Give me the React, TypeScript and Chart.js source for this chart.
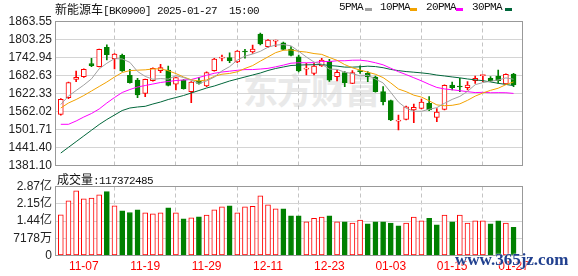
import React, { useEffect, useRef } from 'react';
import { Chart, registerables } from 'chart.js';

Chart.register(...registerables);
Chart.defaults.font.family = '"Liberation Sans", "Noto Sans CJK SC", sans-serif';

// ---------- data ----------
const dates = [
  '11-04','11-05','11-06','11-07','11-08','11-11','11-12','11-13','11-14','11-15',
  '11-18','11-19','11-20','11-21','11-22','11-25','11-26','11-27','11-28','11-29',
  '12-02','12-03','12-04','12-05','12-06','12-09','12-10','12-11','12-12','12-13',
  '12-16','12-17','12-18','12-19','12-20','12-23','12-24','12-25','12-26','12-27',
  '12-30','12-31','01-02','01-03','01-06','01-07','01-08','01-09','01-10','01-13',
  '01-14','01-15','01-16','01-17','01-20','01-21','01-22','01-23','01-24','01-27',
];
const tickIndex = [3, 11, 19, 27, 35, 43, 51, 59];

const open = [
  1552.6, 1608.2, 1669.9, 1678.6, 1722.2, 1712.1, 1777.1, 1738.9, 1750.3, 1683.3,
  1667.5, 1623.0, 1665.2, 1698.7, 1701.0, 1653.2, 1667.5, 1628.4, 1663.2, 1648.0,
  1698.7, 1741.0, 1742.3, 1727.9, 1764.7, 1761.4, 1821.7, 1779.1, 1798.0, 1792.5,
  1771.4, 1745.6, 1704.0, 1690.0, 1714.5, 1730.0, 1678.6, 1692.0, 1656.5, 1698.7,
  1690.0, 1676.6, 1628.4, 1598.2, 1530.0, 1535.8, 1567.0, 1572.7, 1589.5, 1542.6,
  1569.4, 1650.8, 1646.4, 1641.8, 1665.2, 1682.0, 1673.2, 1681.0, 1654.2, 1687.6,
];
const high = [
  1605.0, 1661.0, 1697.7, 1705.0, 1740.3, 1771.0, 1785.8, 1756.0, 1754.6, 1703.4,
  1673.2, 1671.0, 1708.0, 1720.2, 1714.5, 1677.0, 1669.0, 1662.0, 1676.6, 1695.0,
  1740.0, 1751.3, 1759.0, 1766.0, 1770.4, 1784.8, 1825.0, 1803.0, 1801.0, 1794.9,
  1779.8, 1751.0, 1723.5, 1723.5, 1740.3, 1737.0, 1701.0, 1695.4, 1698.7, 1715.4,
  1695.4, 1681.0, 1645.1, 1600.0, 1550.3, 1580.0, 1587.0, 1603.9, 1611.6, 1571.4,
  1651.0, 1660.8, 1673.2, 1661.9, 1681.0, 1685.0, 1678.6, 1701.0, 1688.0, 1690.0,
];
const low = [
  1550.0, 1605.0, 1661.9, 1676.0, 1712.1, 1711.0, 1734.6, 1704.4, 1696.0, 1657.0,
  1608.2, 1611.6, 1664.0, 1692.0, 1648.0, 1634.0, 1637.0, 1591.5, 1653.2, 1645.0,
  1697.0, 1731.2, 1725.5, 1726.0, 1740.3, 1757.0, 1784.8, 1777.0, 1779.0, 1768.0,
  1748.0, 1694.3, 1684.3, 1684.3, 1713.0, 1663.0, 1664.2, 1645.1, 1655.0, 1690.0,
  1661.9, 1627.0, 1583.8, 1531.0, 1500.0, 1534.0, 1524.5, 1571.0, 1564.7, 1527.8,
  1567.0, 1634.0, 1628.4, 1634.0, 1656.5, 1661.9, 1661.9, 1656.5, 1653.0, 1645.1,
];
const close = [
  1602.9, 1658.5, 1676.6, 1703.4, 1715.5, 1770.4, 1752.3, 1754.6, 1697.7, 1658.5,
  1617.3, 1669.9, 1706.8, 1708.8, 1649.8, 1675.3, 1638.4, 1660.8, 1656.5, 1692.0,
  1737.9, 1743.0, 1732.2, 1764.7, 1761.4, 1771.4, 1788.2, 1801.6, 1800.0, 1770.4,
  1749.6, 1697.7, 1706.0, 1714.5, 1734.6, 1667.0, 1693.4, 1658.5, 1692.0, 1695.4,
  1678.6, 1628.4, 1594.8, 1533.5, 1532.0, 1578.0, 1576.0, 1593.8, 1567.0, 1560.3,
  1649.8, 1641.8, 1644.1, 1650.8, 1673.2, 1684.0, 1664.2, 1665.2, 1686.6, 1650.8,
];

const ma5 = [
  1585.4, 1613.9, 1632.4, 1650.8, 1671.4, 1704.9, 1723.6, 1739.2, 1738.1, 1726.7,
  1696.1, 1679.6, 1670.0, 1672.3, 1670.5, 1682.1, 1675.8, 1666.6, 1656.2, 1664.6,
  1677.1, 1698.0, 1712.3, 1734.0, 1747.8, 1754.5, 1763.6, 1777.5, 1784.5, 1786.3,
  1782.0, 1763.9, 1744.7, 1727.6, 1720.5, 1704.0, 1703.1, 1693.6, 1689.1, 1681.3,
  1683.6, 1670.6, 1657.8, 1626.1, 1593.5, 1573.3, 1562.9, 1562.7, 1569.4, 1575.0,
  1589.4, 1602.5, 1612.6, 1629.4, 1651.9, 1658.8, 1663.3, 1667.5, 1674.6, 1670.2,
];
const ma10 = [
  1573.7, 1590.5, 1602.2, 1615.6, 1630.7, 1645.8, 1660.8, 1677.6, 1692.7, 1699.0,
  1700.5, 1701.6, 1704.6, 1705.2, 1698.6, 1689.1, 1677.7, 1668.3, 1664.2, 1667.6,
  1679.6, 1686.9, 1689.5, 1695.1, 1706.2, 1715.8, 1730.8, 1744.9, 1759.2, 1767.1,
  1768.3, 1763.7, 1761.1, 1756.1, 1753.4, 1743.0, 1733.5, 1719.2, 1708.4, 1700.9,
  1693.8, 1686.8, 1675.7, 1657.6, 1637.4, 1628.5, 1616.7, 1610.3, 1597.8, 1584.2,
  1581.4, 1582.7, 1587.6, 1599.4, 1613.5, 1624.1, 1632.9, 1640.0, 1652.0, 1661.1,
];
const ma20 = [
  1519.1, 1519.1, 1530.2, 1543.6, 1555.3, 1570.4, 1590.5, 1608.9, 1625.7, 1635.7,
  1644.1, 1649.1, 1654.1, 1659.2, 1662.5, 1665.9, 1667.5, 1669.2, 1675.9, 1683.3,
  1690.1, 1694.3, 1697.1, 1700.1, 1702.4, 1702.5, 1704.3, 1706.6, 1711.7, 1717.3,
  1723.9, 1725.3, 1725.3, 1725.6, 1729.8, 1729.4, 1732.1, 1732.0, 1733.8, 1734.0,
  1731.0, 1725.3, 1718.4, 1706.9, 1695.4, 1685.7, 1675.1, 1664.7, 1653.1, 1642.6,
  1637.6, 1634.8, 1631.7, 1628.5, 1625.4, 1626.3, 1624.8, 1625.1, 1624.9, 1622.6,
];
const ma30 = [
  1422.9, 1442.0, 1461.1, 1480.2, 1499.3, 1518.4, 1535.2, 1550.2, 1565.3, 1573.7,
  1577.1, 1579.4, 1587.1, 1593.8, 1602.2, 1608.9, 1615.6, 1624.0, 1632.3, 1640.7,
  1647.4, 1655.8, 1664.2, 1670.9, 1677.6, 1684.3, 1691.0, 1699.4, 1706.1, 1711.2,
  1716.1, 1717.4, 1718.4, 1718.8, 1719.4, 1716.0, 1714.0, 1710.8, 1710.6, 1711.8,
  1713.9, 1712.5, 1708.8, 1702.9, 1699.0, 1695.8, 1693.7, 1691.4, 1688.5, 1684.1,
  1681.1, 1677.8, 1674.8, 1671.0, 1668.1, 1665.2, 1661.0, 1656.5, 1652.7, 1648.7,
];

const volume = [
  169000000, 227000000, 269000000, 236000000, 239000000, 252000000, 266000000, 207000000, 186000000, 179000000,
  190000000, 178000000, 173000000, 178000000, 198000000, 178000000, 153000000, 157000000, 161000000, 168000000,
  190000000, 203000000, 207000000, 178000000, 203000000, 205000000, 248000000, 211000000, 194000000, 194000000,
  165000000, 165000000, 140000000, 155000000, 160000000, 165000000, 140000000, 140000000, 135000000, 147000000,
  132000000, 140000000, 140000000, 135000000, 123000000, 135000000, 160000000, 144000000, 155000000, 128000000,
  168000000, 140000000, 168000000, 135000000, 144000000, 144000000, 132000000, 144000000, 135000000, 117372485,
];
// 1 = rising day (red hollow bar), 0 = falling day (green bar)
const volumeUp = [
  1, 1, 1, 1, 1, 1, 0, 1, 0, 0,
  0, 1, 1, 1, 0, 1, 0, 1, 0, 1,
  1, 1, 0, 1, 1, 1, 1, 1, 1, 0,
  0, 0, 1, 1, 1, 0, 1, 0, 1, 1,
  0, 0, 0, 0, 0, 1, 1, 1, 0, 0,
  1, 0, 1, 1, 1, 1, 0, 0, 1, 0,
];

const priceTicks = [1381.10, 1441.41, 1501.71, 1562.02, 1622.33, 1682.63, 1742.94, 1803.24, 1863.55];
const priceTickLabels = ['1381.10', '1441.40', '1501.71', '1562.02', '1622.33', '1682.63', '1742.94', '1803.25', '1863.55'];
const volTicks = [0, 71780000, 143560000, 215340000, 287120000];
const volTickLabels = ['0', '7178万', '1.44亿', '2.15亿', '2.87亿'];
const lastVolumeText = '117372485';

// ---------- styles ----------
const RED = '#ff0000';
const GREEN = '#008000';
const X_MIN = -0.625;
const X_MAX = 60.1;
const AXIS_FONT = { family: '"Liberation Sans", "Noto Sans CJK SC", sans-serif', size: 12 };
const TEXT_COLOR = '#222222';

const boxPlugin = {
  id: 'frameBox',
  afterDraw(chart: any) {
    const { ctx, chartArea: a } = chart;
    ctx.save();
    ctx.strokeStyle = '#999999';
    ctx.lineWidth = 1;
    ctx.strokeRect(a.left - 0.5, a.top, a.right - a.left + 1, a.bottom - a.top);
    ctx.restore();
  },
};

const xTicks = (s: any) => {
  s.ticks = tickIndex.map((v) => ({ value: v }));
};

export default function App() {
  const priceRef = useRef<HTMLCanvasElement | null>(null);
  const volRef = useRef<HTMLCanvasElement | null>(null);

  useEffect(() => {
    const up = (i: number) => close[i] >= open[i];
    const priceChart = new Chart(priceRef.current as HTMLCanvasElement, {
      type: 'bar',
      data: {
        datasets: [
          { type: 'line', label: '5PMA', data: ma5.map((y, x) => ({ x, y })), borderColor: '#a0a0a0', borderWidth: 1, pointRadius: 0, order: 0 } as any,
          { type: 'line', label: '10PMA', data: ma10.map((y, x) => ({ x, y })), borderColor: '#f2a200', borderWidth: 1, pointRadius: 0, order: 0 } as any,
          { type: 'line', label: '20PMA', data: ma20.map((y, x) => ({ x, y })), borderColor: '#ff00ff', borderWidth: 1, pointRadius: 0, order: 0 } as any,
          { type: 'line', label: '30PMA', data: ma30.map((y, x) => ({ x, y })), borderColor: '#00663a', borderWidth: 1, pointRadius: 0, order: 0 } as any,
          {
            type: 'bar', label: 'body',
            data: open.map((o, x) => ({ x, y: [o, close[x]] })),
            backgroundColor: (c: any) => (up(c.dataIndex) ? '#ffffff' : GREEN),
            borderColor: (c: any) => (up(c.dataIndex) ? RED : GREEN),
            borderWidth: 1, borderSkipped: false, barThickness: 5, grouped: false, minBarLength: 1, order: 1,
          } as any,
          {
            type: 'bar', label: 'wick',
            data: low.map((l, x) => ({ x, y: [l, high[x]] })),
            backgroundColor: (c: any) => (up(c.dataIndex) ? RED : GREEN),
            borderWidth: 0, barThickness: 1, grouped: false, order: 2,
          } as any,
        ],
      },
      options: {
        responsive: false,
        animation: false,
        layout: { padding: { top: 21.5, left: 0, right: 56, bottom: 14.5 } },
        plugins: { legend: { display: false }, tooltip: { enabled: false } },
        scales: {
          x: {
            type: 'linear', min: X_MIN, max: X_MAX, offset: false,
            afterBuildTicks: xTicks,
            ticks: { display: false },
            grid: { color: '#c4c4c4', drawTicks: false },
            border: { display: false, dash: [4, 3] },
            afterFit: (s: any) => { s.height = 0; },
          },
          y: {
            min: 1381.10, max: 1863.55,
            afterBuildTicks: (s: any) => { s.ticks = priceTicks.map((v) => ({ value: v })); },
            ticks: { callback: (_v: any, i: number) => priceTickLabels[i], font: AXIS_FONT, color: TEXT_COLOR, padding: 4, autoSkip: false },
            grid: { color: '#d4d4d4', drawTicks: false },
            border: { display: false },
            afterFit: (s: any) => { s.width = 56; },
          },
        },
      } as any,
      plugins: [boxPlugin],
    });

    const volChart = new Chart(volRef.current as HTMLCanvasElement, {
      type: 'bar',
      data: {
        datasets: [
          {
            label: '成交量',
            data: volume.map((y, x) => ({ x, y })),
            backgroundColor: (c: any) => (volumeUp[c.dataIndex] ? '#ffffff' : GREEN),
            borderColor: (c: any) => (volumeUp[c.dataIndex] ? RED : GREEN),
            borderWidth: 1, borderSkipped: false, barThickness: 5, grouped: false,
          } as any,
        ],
      },
      options: {
        responsive: false,
        animation: false,
        layout: { padding: { top: 16.5, left: 0, right: 56, bottom: 0 } },
        plugins: { legend: { display: false }, tooltip: { enabled: false } },
        scales: {
          x: {
            type: 'linear', min: X_MIN, max: X_MAX, offset: false,
            afterBuildTicks: xTicks,
            ticks: {
              callback: (_v: any, i: number) => dates[tickIndex[i]],
              color: RED, font: AXIS_FONT, padding: 4, maxRotation: 0, autoSkip: false,
            },
            grid: { color: '#c4c4c4', drawTicks: false },
            border: { display: false, dash: [4, 3] },
            afterFit: (s: any) => { s.height = 20.5; },
          },
          y: {
            min: 0, max: 287120000,
            afterBuildTicks: (s: any) => { s.ticks = volTicks.map((v) => ({ value: v })); },
            ticks: { callback: (_v: any, i: number) => volTickLabels[i], font: AXIS_FONT, color: TEXT_COLOR, padding: 4, autoSkip: false },
            grid: { color: '#d4d4d4', drawTicks: false },
            border: { display: false },
            afterFit: (s: any) => { s.width = 56; },
          },
        },
      } as any,
      plugins: [boxPlugin],
    });

    return () => {
      priceChart.destroy();
      volChart.destroy();
    };
  }, []);

  const mono: React.CSSProperties = { font: '11px "Liberation Mono", monospace', letterSpacing: '-0.6px' };
  const cjk: React.CSSProperties = { font: '12px "Noto Sans CJK SC", sans-serif' };
  const legendItems = [
    { text: '5PMA', left: 339, dash: 365, color: '#a0a0a0' },
    { text: '10PMA', left: 380, dash: 410, color: '#f2a200' },
    { text: '20PMA', left: 426, dash: 456, color: '#ff00ff' },
    { text: '30PMA', left: 472, dash: 505, color: '#00663a' },
  ];

  return (
    <div style={{ position: 'fixed', left: 0, top: 0, width: 578, height: 276, background: '#ffffff', overflow: 'hidden' }}>
      <div style={{ position: 'absolute', left: 243, top: 70, font: 'bold 35px "Noto Sans CJK SC", sans-serif', letterSpacing: '-1px', color: '#e9e9e9', lineHeight: '38px', whiteSpace: 'nowrap' }}>
        东方财富
      </div>
      <div style={{ position: 'absolute', left: 0, top: 0, width: 578, height: 180 }}>
        <canvas ref={priceRef} width={578} height={180} style={{ width: 578, height: 180, display: 'block' }} />
      </div>
      <div style={{ position: 'absolute', left: 0, top: 170, width: 578, height: 106 }}>
        <canvas ref={volRef} width={578} height={106} style={{ width: 578, height: 106, display: 'block' }} />
      </div>
      <div style={{ position: 'absolute', left: 55, top: 0, height: 16, lineHeight: '16px', whiteSpace: 'pre', color: '#111111' }}>
        <span style={cjk}>新能源车</span>
        <span style={mono}>[BK0900] 2025-01-27  15:00</span>
      </div>
      {legendItems.map((it) => (
        <React.Fragment key={it.text}>
          <div style={{ position: 'absolute', left: it.left, top: 1, lineHeight: '16px', whiteSpace: 'pre', color: '#111111', ...mono }}>{it.text}</div>
          <div style={{ position: 'absolute', left: it.dash, top: 8, width: 7, height: 3, background: it.color }} />
        </React.Fragment>
      ))}
      <div style={{ position: 'absolute', left: 57, top: 170, height: 16, lineHeight: '16px', whiteSpace: 'pre', color: '#111111' }}>
        <span style={cjk}>成交量</span>
        <span style={mono}>:{lastVolumeText}</span>
      </div>
      <div style={{ position: 'absolute', left: 455, top: 251, font: 'bold 17px "Liberation Serif", serif', lineHeight: '17px', color: '#21408f', whiteSpace: 'nowrap', textShadow: '0 0 2px #ffffff, 0 0 1px #ffffff' }}>
        www.365jz.com
      </div>
    </div>
  );
}
